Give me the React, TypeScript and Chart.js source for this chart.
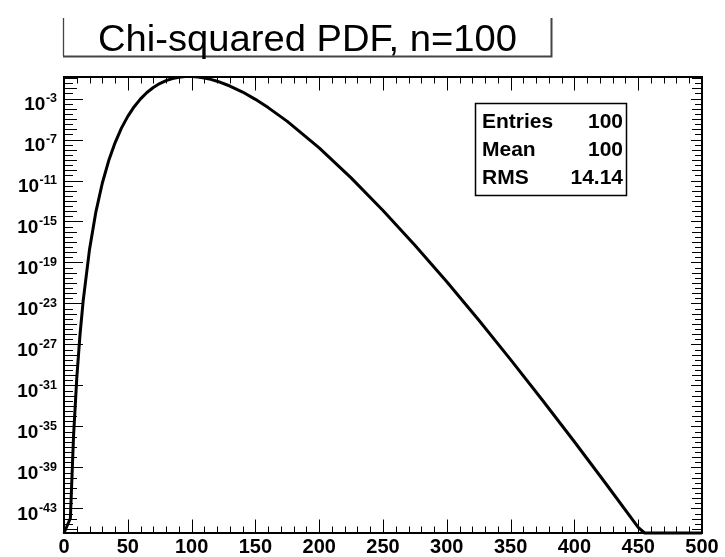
import React, { useEffect, useRef } from "react";
import { Chart, registerables } from "chart.js";

Chart.register(...registerables);

const xValues = [0, 5, 7.5, 10, 12.5, 15, 20, 25, 30, 35, 40, 45, 50, 55, 60, 65, 70, 75, 80, 85, 90, 95, 100, 105, 110, 115, 120, 130, 140, 150, 160, 175, 200, 225, 250, 275, 300, 325, 350, 375, 400, 425, 450, 455, 475, 500];
const yValues = [4e-46, 1.1e-44, 1.3e-36, 4.9e-31, 7.9e-27, 1.7e-23, 1.9e-18, 8.7e-15, 5.4e-12, 8.3e-10, 4.8e-8, 1.3e-6, 1.8e-5, 1.6e-4, 9.3e-4, 3.9e-3, 1.2e-2, 2.9e-2, 5.6e-2, 8.9e-2, 0.12, 0.14, 0.141, 0.129, 0.102, 0.074, 0.049, 0.0166, 4.3e-3, 8.3e-4, 1.3e-4, 5.9e-6, 1.5e-8, 1.8e-11, 1.2e-14, 4.8e-18, 1.3e-21, 2.4e-25, 3.3e-29, 3.6e-33, 3.2e-37, 2.3e-41, 1.4e-45, 4e-46, 4e-46, 4e-46];

const xTickLabels = [0, 50, 100, 150, 200, 250, 300, 350, 400, 450, 500];
const yLabelExponents = [-3, -7, -11, -15, -19, -23, -27, -31, -35, -39, -43];

const titleText = "Chi-squared PDF, n=100";
const statNames = ["Entries", "Mean", "RMS"];
const statValues = ["100", "100", "14.14"];

const X_MIN = 0;
const X_MAX = 500;
const Y_MIN = 4e-46;
const Y_MAX = 0.126;

const FONT = '"Liberation Sans", Arial, Helvetica, sans-serif';

const decorPlugin = {
  id: "rootDecor",
  afterDraw(chart: any) {
    const ctx: CanvasRenderingContext2D = chart.ctx;
    const { left, right, top, bottom } = chart.chartArea;
    const xs = chart.scales.x;
    const ys = chart.scales.y;
    ctx.save();
    ctx.strokeStyle = "#000";
    ctx.fillStyle = "#000";

    // X ticks
    ctx.lineWidth = 1;
    for (let v = X_MIN; v <= X_MAX; v += 10) {
      const px = Math.round(xs.getPixelForValue(v)) + 0.5;
      const len = v % 50 === 0 ? 13.5 : 6.5;
      ctx.beginPath();
      ctx.moveTo(px, bottom);
      ctx.lineTo(px, bottom - len);
      ctx.moveTo(px, top);
      ctx.lineTo(px, top + len);
      ctx.stroke();
    }

    // Y ticks
    for (let e2 = -91; e2 <= -2; e2++) {
      const e = e2 / 2;
      const v = Math.pow(10, e);
      if (v < Y_MIN || v > Y_MAX) continue;
      const py = Math.round(ys.getPixelForValue(v)) + 0.5;
      const isLabel = yLabelExponents.includes(e);
      const isInt = Number.isInteger(e);
      const lenL = isLabel ? 19 : isInt ? 13 : 9;
      const lenR = isLabel ? 11 : isInt ? 10 : 7;
      ctx.beginPath();
      ctx.moveTo(left, py);
      ctx.lineTo(left + lenL, py);
      ctx.moveTo(right, py);
      ctx.lineTo(right - lenR, py);
      ctx.stroke();
    }

    // Frame
    ctx.lineWidth = 2;
    ctx.strokeRect(left, top, right - left, bottom - top);

    // X labels
    ctx.font = `bold 20px ${FONT}`;
    ctx.textAlign = "center";
    ctx.textBaseline = "alphabetic";
    for (const v of xTickLabels) {
      const px = xs.getPixelForValue(v);
      ctx.fillText(String(v), px, 553);
    }

    // Y labels 10^e
    for (const e of yLabelExponents) {
      const py = ys.getPixelForValue(Math.pow(10, e));
      const sup = String(e);
      ctx.font = `bold 12.5px ${FONT}`;
      const wSup = ctx.measureText(sup).width;
      const rightEdge = 57;
      ctx.textAlign = "right";
      ctx.fillText(sup, rightEdge, py + 3.5);
      ctx.font = `bold 19px ${FONT}`;
      ctx.fillText("10", rightEdge - wSup - 0.5, py + 11.5);
    }

    // Title box
    ctx.strokeStyle = "#444";
    ctx.lineWidth = 1.3;
    ctx.beginPath();
    ctx.moveTo(63.5, 18);
    ctx.lineTo(63.5, 56);
    ctx.stroke();
    ctx.lineWidth = 2;
    ctx.beginPath();
    ctx.moveTo(551.5, 18);
    ctx.lineTo(551.5, 57.5);
    ctx.moveTo(63, 56.5);
    ctx.lineTo(552.5, 56.5);
    ctx.stroke();
    ctx.fillStyle = "#000";
    ctx.save();
    ctx.translate(307.5, 51);
    ctx.scale(1.06, 1);
    ctx.font = `36px ${FONT}`;
    ctx.textAlign = "center";
    ctx.fillText(titleText, 0, 0);
    ctx.restore();

    // Stats box
    ctx.fillStyle = "#fff";
    ctx.fillRect(475, 103, 152, 93);
    ctx.strokeStyle = "#000";
    ctx.lineWidth = 1.5;
    ctx.strokeRect(475.5, 103.5, 151, 92);
    ctx.fillStyle = "#000";
    ctx.font = `bold 21px ${FONT}`;
    const rowBase = [128, 156, 184];
    for (let i = 0; i < statNames.length; i++) {
      ctx.textAlign = "left";
      ctx.fillText(statNames[i], 482, rowBase[i]);
      ctx.textAlign = "right";
      ctx.fillText(statValues[i], 623, rowBase[i]);
    }
    ctx.restore();
  },
};

export default function App() {
  const ref = useRef<HTMLCanvasElement | null>(null);
  useEffect(() => {
    if (!ref.current) return;
    const chart = new Chart(ref.current, {
      type: "line",
      data: {
        datasets: [
          {
            data: xValues.map((x, i) => ({ x, y: yValues[i] })),
            borderColor: "#000",
            borderWidth: 3,
            pointRadius: 0,
            fill: false,
            tension: 0,
            borderJoinStyle: "round",
            clip: { left: 2, top: 0, right: 2, bottom: 3 } as any,
          },
        ],
      },
      options: {
        animation: false,
        responsive: false,
        maintainAspectRatio: false,
        events: [],
        layout: { padding: { left: 64, top: 77, right: 23, bottom: 24 } },
        scales: {
          x: { type: "linear", min: X_MIN, max: X_MAX, display: false },
          y: { type: "logarithmic", min: Y_MIN, max: Y_MAX, display: false },
        },
        plugins: {
          legend: { display: false },
          tooltip: { enabled: false },
          title: { display: false },
        },
      },
      plugins: [decorPlugin],
    } as any);
    return () => chart.destroy();
  }, []);
  return (
    <div style={{ position: "fixed", left: 0, top: 0, width: 725, height: 557, background: "#fff" }}>
      <canvas ref={ref} width={725} height={557} style={{ width: 725, height: 557, display: "block" }} />
    </div>
  );
}
